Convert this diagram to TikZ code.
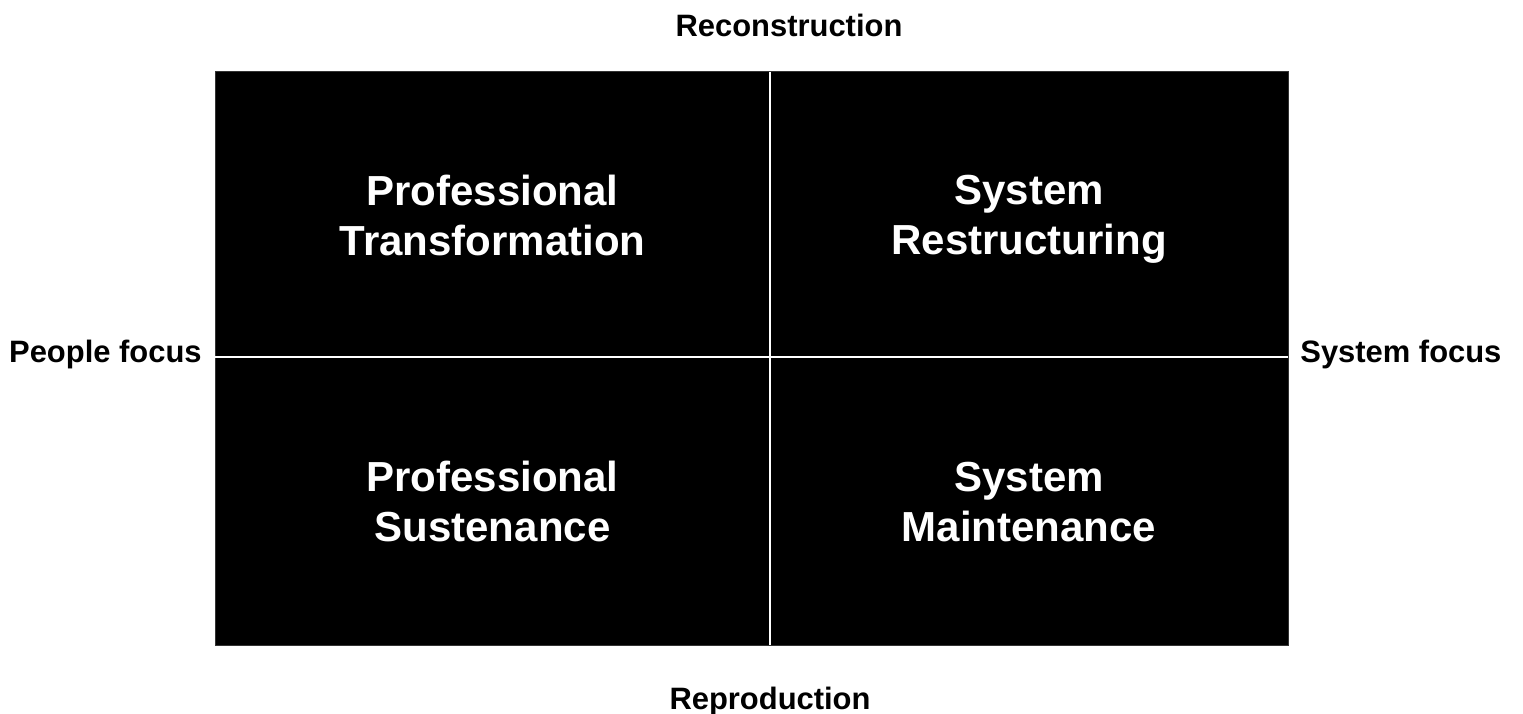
\documentclass[tikz,border=0pt]{standalone}
\usepackage{fontspec}
\setmainfont{Liberation Sans}
\usetikzlibrary{calc}

\tikzset{axis label/.style={font=\fontsize{17.6}{21}\selectfont\bfseries,inner sep=0cm},
quadrant/.style={fill=black,draw=black!80,line width=0.02cm},
divider/.style={draw=white,line width=0.04cm},
quadrant title/.style={font=\fontsize{23.9}{28.45}\selectfont\bfseries,text=white,align=center,
  execute at begin node=\strut,execute at end node=\strut,yshift=-0.16cm,inner sep=0cm}}

\begin{document}
\begin{tikzpicture}
\useasboundingbox (0,0) rectangle (30.46,14.26);

%% Coordinates of the grid.
\coordinate (sw) at (4.30,1.36);
\coordinate (ne) at (25.76,12.82);
\coordinate (top) at (15.40,12.82);
\coordinate (bottom) at (15.40,1.36);
\coordinate (left) at (4.30,7.11);
\coordinate (right) at (25.76,7.11);
\coordinate (c) at (15.40,7.11);

%% black field and dividing lines
\draw [quadrant] (sw) rectangle (ne);
\draw [divider] (top) -- (bottom);
\draw [divider] (left) -- (right);

%% quadrant titles
\node [quadrant title] (pt) at ($(left)!0.5!(top)$) {Professional\\Transformation};
\node [quadrant title] (sr) at ($(top)!0.5!(right)$) {System\\Restructuring};
\node [quadrant title] (ps) at ($(left)!0.5!(bottom)$) {Professional\\Sustenance};
\node [quadrant title] (sm) at ($(bottom)!0.5!(right)$) {System\\Maintenance};

%% axis labels
\node [axis label,anchor=base] (recon) at (15.78,13.53) {Reconstruction};
\node [axis label,anchor=base] (repro) at (15.40,0.08) {Reproduction};
\node [axis label,anchor=base east] (people) at (4.04,7.00) {People focus};
\node [axis label,anchor=base west] (system) at (26.00,7.00) {System focus};

\end{tikzpicture}
\end{document}
